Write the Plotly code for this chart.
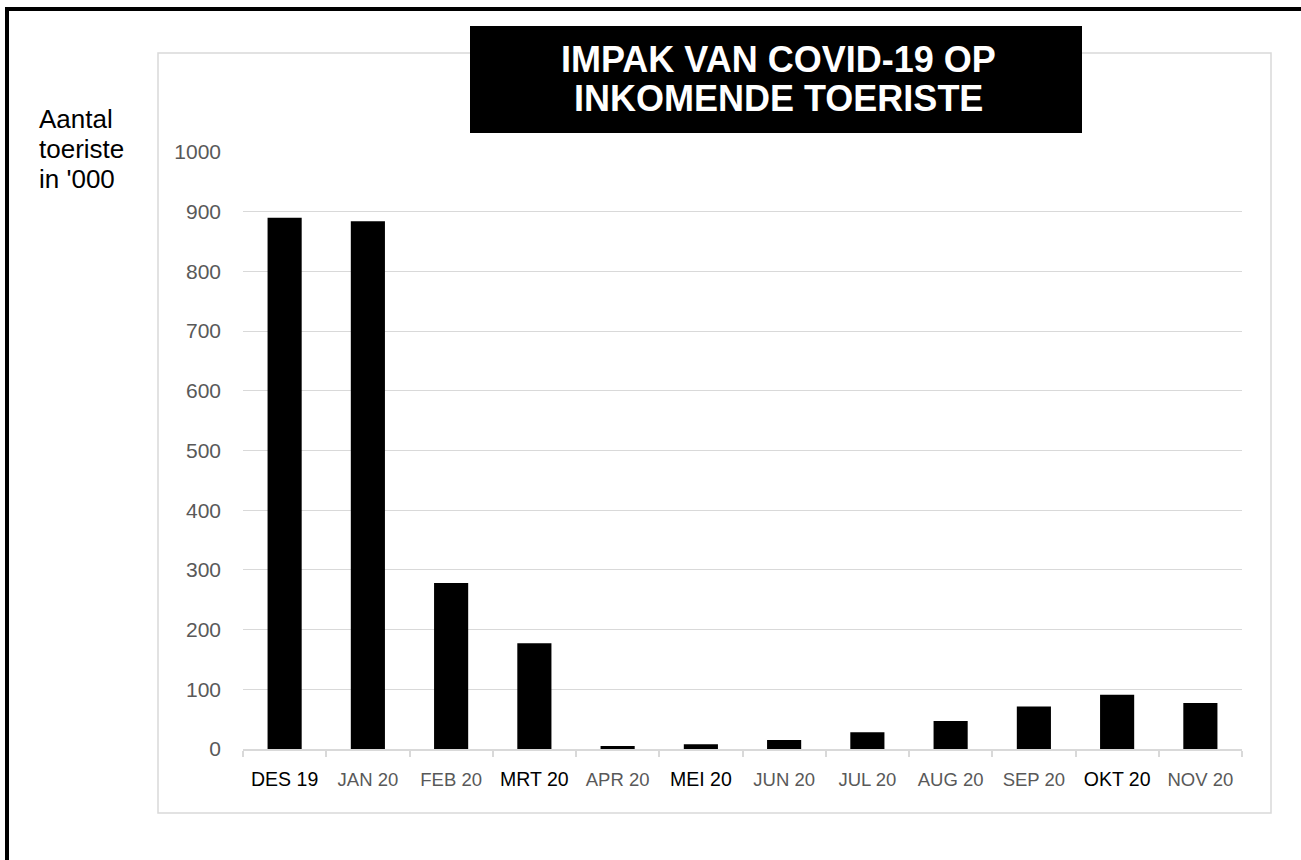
import plotly.graph_objects as go

# ---- data ----
months = ["DES 19", "JAN 20", "FEB 20", "MRT 20", "APR 20", "MEI 20",
          "JUN 20", "JUL 20", "AUG 20", "SEP 20", "OKT 20", "NOV 20"]
tourists = [890, 884, 278, 177, 5, 8, 15, 28, 47, 71, 91, 77]
emphasised = ["DES 19", "MRT 20", "MEI 20", "OKT 20"]
y_ticks = list(range(0, 1001, 100))
title_lines = ["IMPAK VAN COVID-19 OP", "INKOMENDE TOERISTE"]
y_label_lines = ["Aantal", "toeriste", "in '000"]

# ---- layout geometry (pixels) ----
W, H = 1301, 860
PL, PR, PT, PB = 243, 1242, 152, 749


def px(x):
    return (x - PL) / (PR - PL)


def py(y):
    return (PB - y) / (PB - PT)


GRID = "#d9d9d9"
TICKGRAY = "#595959"
ARIAL = "Liberation Sans, Arial, sans-serif"

ticktext = []
for m in months:
    if m in emphasised:
        ticktext.append(f'<span style="color:#000000;font-size:19.5px">{m}</span>')
    else:
        ticktext.append(f'<span style="color:{TICKGRAY};font-size:18.5px">{m}</span>')

fig = go.Figure(
    go.Bar(x=months, y=tourists, marker=dict(color="#000000", line=dict(width=0)),
           hoverinfo="x+y")
)

fig.update_layout(
    width=W, height=H,
    margin=dict(l=PL, r=W - PR, t=PT, b=H - PB, pad=0),
    paper_bgcolor="white", plot_bgcolor="white",
    bargap=0.59,
    showlegend=False,
    font=dict(family=ARIAL, color="#000000"),
)

fig.update_yaxes(
    range=[0, 1000], tickvals=y_ticks, showgrid=True, gridcolor=GRID, gridwidth=1,
    zeroline=False, showline=False, ticks="",
    tickfont=dict(family=ARIAL, size=21, color=TICKGRAY),
    ticklabelstandoff=21,
)
fig.update_xaxes(
    type="category", tickvals=months, ticktext=ticktext,
    showline=True, linecolor=GRID, linewidth=1.5,
    ticks="outside", tickson="boundaries", ticklen=6, tickcolor=GRID, tickwidth=1.5,
    showgrid=False,
    tickfont=dict(family=ARIAL, size=18.5, color=TICKGRAY),
    ticklabelstandoff=13,
)

shapes = [
    # chart-area frame
    dict(type="rect", xref="paper", yref="paper", x0=px(158), x1=px(1271),
         y0=py(813), y1=py(53), line=dict(color=GRID, width=1.5), layer="below"),
    # title box
    dict(type="rect", xref="paper", yref="paper", x0=px(470), x1=px(1082),
         y0=py(133), y1=py(26), fillcolor="#000000", line=dict(width=0)),
    # outer border (top and left)
    dict(type="line", xref="paper", yref="paper", x0=px(5), x1=px(1320),
         y0=py(9), y1=py(9), line=dict(color="#000000", width=4)),
    dict(type="line", xref="paper", yref="paper", x0=px(7), x1=px(7),
         y0=py(7), y1=py(880), line=dict(color="#000000", width=4)),
]
fig.update_layout(shapes=shapes)

annotations = []
for i, line in enumerate(title_lines):
    annotations.append(
        dict(xref="paper", yref="paper", x=px(778), y=py(60 + 38 * i),
             text=f"<b>{line}</b>", showarrow=False,
             xanchor="center", yanchor="middle", align="center",
             font=dict(family=ARIAL, size=36, color="#ffffff"))
    )
for i, line in enumerate(y_label_lines):
    annotations.append(
        dict(xref="paper", yref="paper", x=px(37), y=py(119 + 30 * i),
             text=line, showarrow=False, xanchor="left", yanchor="middle",
             align="left", font=dict(family=ARIAL, size=26, color="#000000"))
    )
fig.update_layout(annotations=annotations)

fig.write_html("out.html", config={"displayModeBar": False},
               post_script="document.body.style.margin='0';")
